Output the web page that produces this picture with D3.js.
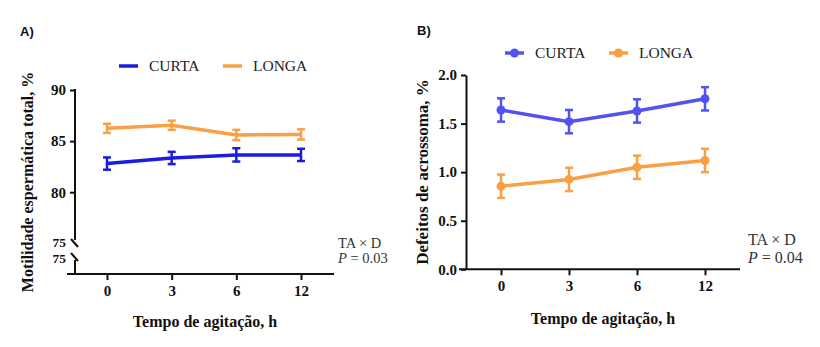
<!DOCTYPE html>
<html>
<head>
<meta charset="utf-8">
<script src="https://cdn.jsdelivr.net/npm/d3@7"></script>
<style>
  body { margin: 0; background: #fff; }
  svg { font-family: "Times New Roman", "Liberation Serif", "DejaVu Serif", serif; }
</style>
</head>
<body>
<div id="chart"></div>
<script>
const times = ["0", "3", "6", "12"];
const groups = ["CURTA", "LONGA"];

// A) motilidade espermática total, %
const motCurta = [82.8, 83.35, 83.65, 83.65];
const motCurtaErr = [0.6, 0.6, 0.65, 0.6];
const motLonga = [86.25, 86.55, 85.6, 85.65];
const motLongaErr = [0.45, 0.45, 0.5, 0.5];
const motTicks = [80, 85, 90];

// B) defeitos de acrossoma, %
const acrCurta = [1.64, 1.52, 1.63, 1.755];
const acrCurtaErr = [0.12, 0.12, 0.12, 0.12];
const acrLonga = [0.855, 0.925, 1.05, 1.12];
const acrLongaErr = [0.12, 0.12, 0.12, 0.12];
const acrTicks = [0, 0.5, 1.0, 1.5, 2.0];

const SERIF = '"Times New Roman", "Liberation Serif", serif';
const SANS = '"Liberation Sans", Arial, sans-serif';

const svg = d3.select("#chart").append("svg")
  .attr("width", 820).attr("height", 347);

function drawSeries(g, x, y, vals, errs, color, dots) {
  const pts = vals.map((v, i) => [times[i], v, errs[i]]);
  g.append("path")
    .attr("d", d3.line().x(d => x(d[0])).y(d => y(d[1]))(pts))
    .attr("fill", "none").attr("stroke", color).attr("stroke-width", 3.5);
  pts.forEach(d => {
    const cx = x(d[0]);
    g.append("line").attr("x1", cx).attr("x2", cx)
      .attr("y1", y(d[1] - d[2])).attr("y2", y(d[1] + d[2]))
      .attr("stroke", color).attr("stroke-width", 2.5);
    [d[1] - d[2], d[1] + d[2]].forEach(e => {
      g.append("line").attr("x1", cx - 4).attr("x2", cx + 4)
        .attr("y1", y(e)).attr("y2", y(e))
        .attr("stroke", color).attr("stroke-width", 2.5);
    });
    if (dots) {
      g.append("circle").attr("cx", cx).attr("cy", y(d[1])).attr("r", 4.5)
        .attr("fill", color);
    }
  });
}

function txt(g, x, y, s, size, opts = {}) {
  return g.append("text").attr("x", x).attr("y", y)
    .style("font-family", opts.family || SERIF)
    .style("font-size", size + "px")
    .style("font-weight", opts.bold ? "bold" : "normal")
    .attr("text-anchor", opts.anchor || "start")
    .attr("fill", opts.fill || "#111").text(s);
}

function legend(g, x0, y0, colors, dots) {
  const offs = [0, 104];
  groups.forEach((name, i) => {
    const lx = x0 + offs[i];
    g.append("line").attr("x1", lx).attr("x2", lx + 19)
      .attr("y1", y0).attr("y2", y0)
      .attr("stroke", colors[i]).attr("stroke-width", 3.5);
    if (dots) g.append("circle").attr("cx", lx + 9.5).attr("cy", y0).attr("r", 4.5).attr("fill", colors[i]);
    txt(g, lx + 30, y0 + 5, name, 15.5, {fill: "#222"});
  });
}

function styleAxis(g) {
  g.selectAll("path, line").attr("stroke", "#111").attr("stroke-width", 2);
  g.selectAll("text").style("font-size", "15px").style("font-weight", "bold")
    .attr("fill", "#111").style("font-family", SERIF);
}

// ---------- panel A ----------
{
  const g = svg.append("g");
  const x = d3.scalePoint().domain(times).range([107, 301]);
  const y = d3.scaleLinear().domain([75, 90]).range([243.3, 90]);
  const baseY = 274, axisX = 75;

  drawSeries(g, x, y, motLonga, motLongaErr, "#f9a044", false);
  drawSeries(g, x, y, motCurta, motCurtaErr, "#1c1ce0", false);

  // y axis (upper part) with break
  const ya = g.append("g").attr("transform", `translate(${axisX},0)`)
    .call(d3.axisLeft(y).tickValues(motTicks).tickSize(5).tickPadding(4).tickFormat(d3.format("d")));
  ya.select(".domain").remove();
  styleAxis(ya);
  g.append("line").attr("x1", axisX).attr("x2", axisX).attr("y1", 89).attr("y2", 240)
    .attr("stroke", "#111").attr("stroke-width", 2);
  g.append("line").attr("x1", axisX).attr("x2", axisX).attr("y1", 260).attr("y2", baseY)
    .attr("stroke", "#111").attr("stroke-width", 2);
  [240, 254].forEach(b => {
    g.append("line").attr("x1", axisX - 4).attr("x2", axisX + 3)
      .attr("y1", b - 1).attr("y2", b + 7).attr("stroke", "#111").attr("stroke-width", 2);
  });
  [y(75) - 1, 258.5].forEach(p => {
    txt(g, 66, p + 4.5, "75", 13.5, {bold: true, anchor: "end"});
  });

  const xa = g.append("g").attr("transform", `translate(0,${baseY})`)
    .call(d3.axisBottom(x).tickSize(6).tickPadding(5).tickSizeOuter(0));
  xa.select(".domain").attr("d", "M67,0H334");
  styleAxis(xa);

  txt(g, 0, 0, "Motilidade espermática total, %", 16, {bold: true, anchor: "middle"})
    .attr("transform", "translate(33,182) rotate(-90)");
  txt(g, 205, 327, "Tempo de agitação, h", 16, {bold: true, anchor: "middle"});
  txt(g, 20, 36, "A)", 13, {bold: true, family: SANS});
  txt(g, 338, 248, "TA × D", 14.5, {fill: "#333"});
  const p = txt(g, 338, 263, "", 14.5, {fill: "#333"});
  p.append("tspan").style("font-style", "italic").text("P");
  p.append("tspan").text(" = 0.03");

  legend(g, 119, 66, ["#1c1ce0", "#f9a044"], false);
}

// ---------- panel B ----------
{
  const g = svg.append("g");
  const x = d3.scalePoint().domain(times).range([501, 705]);
  const y = d3.scaleLinear().domain([0, 2]).range([269.3, 75]);
  const axisX = 466;

  drawSeries(g, x, y, acrLonga, acrLongaErr, "#f9a044", true);
  drawSeries(g, x, y, acrCurta, acrCurtaErr, "#5252f2", true);

  const ya = g.append("g").attr("transform", `translate(${axisX},0)`)
    .call(d3.axisLeft(y).tickValues(acrTicks).tickSize(5).tickPadding(4).tickSizeOuter(0).tickFormat(d3.format(".1f")));
  styleAxis(ya);

  const xa = g.append("g").attr("transform", `translate(0,${y(0)})`)
    .call(d3.axisBottom(x).tickSize(6).tickPadding(5).tickSizeOuter(0));
  xa.select(".domain").attr("d", "M459,0H740");
  styleAxis(xa);

  txt(g, 0, 0, "Defeitos de acrossoma, %", 17, {bold: true, anchor: "middle"})
    .attr("transform", "translate(428,172) rotate(-90)");
  txt(g, 603, 324, "Tempo de agitação, h", 16, {bold: true, anchor: "middle"});
  txt(g, 417, 35, "B)", 13, {bold: true, family: SANS});
  txt(g, 748, 245, "TA × D", 16, {fill: "#333"});
  const p = txt(g, 748, 263, "", 16, {fill: "#333"});
  p.append("tspan").style("font-style", "italic").text("P");
  p.append("tspan").text(" = 0.04");

  legend(g, 505, 53, ["#5252f2", "#f9a044"], true);
}
</script>
</body>
</html>
